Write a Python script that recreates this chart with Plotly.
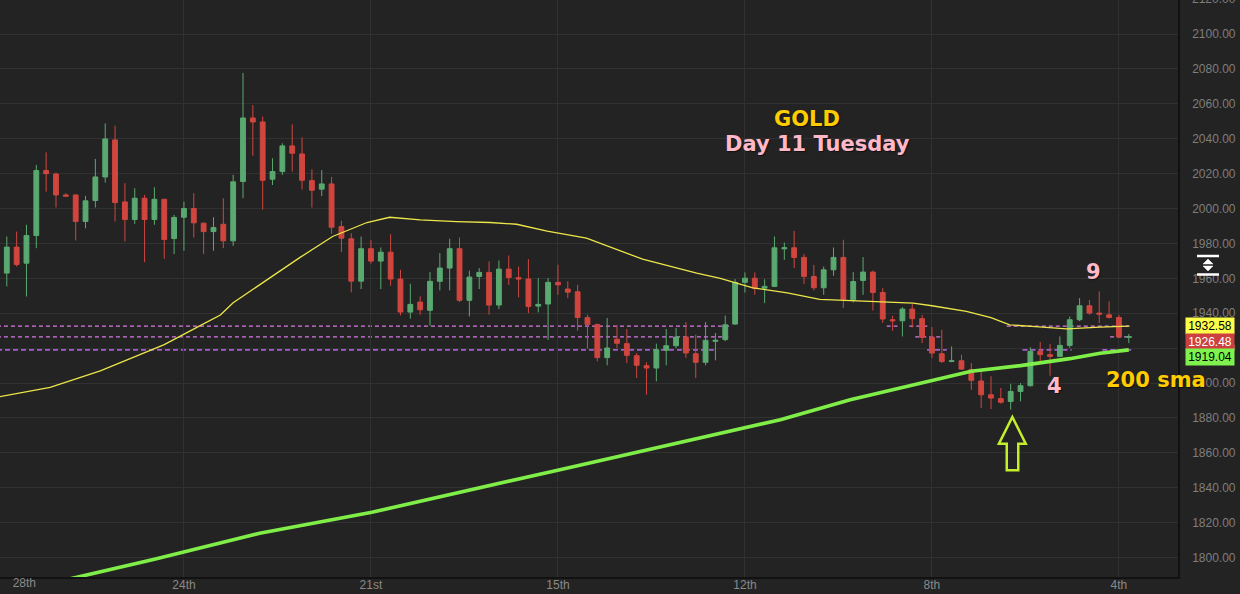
import plotly.graph_objects as go

# ---------------- data ----------------
bars = list(range(115))
opens = [1963.0, 1977.9, 1968.7, 1984.5, 2021.8, 2019.8, 2007.8, 2007.8, 1992.6, 2004.6,
         2018.1, 2039.3, 2003.8, 1993.7, 2005.9, 1993.7, 2005.3, 1982.8, 1995.0, 2000.0,
         1991.6, 1986.8, 1991.0, 1981.5, 2015.5, 2051.9, 2049.6, 2016.8, 2021.2, 2035.9,
         2031.3, 2016.0, 2011.1, 2014.1, 1989.7, 1982.7, 1958.4, 1977.0, 1969.9, 1975.0,
         1959.6, 1940.7, 1946.4, 1941.7, 1958.3, 1965.9, 1977.0, 1947.4, 1961.1, 1963.4,
         1944.7, 1965.3, 1960.4, 1959.6, 1944.1, 1945.3, 1957.7, 1953.9, 1952.3, 1937.5,
         1933.6, 1914.6, 1925.1, 1922.6, 1915.7, 1910.0, 1908.6, 1918.8, 1921.4, 1926.4,
         1916.8, 1911.9, 1923.9, 1924.9, 1933.8, 1957.7, 1960.1, 1954.4, 1955.4, 1976.9,
         1977.5, 1972.0, 1961.1, 1954.6, 1964.9, 1972.0, 1947.7, 1958.8, 1963.6, 1951.9,
         1936.3, 1935.7, 1942.4, 1936.9, 1926.2, 1916.8, 1912.4, 1912.8, 1907.7, 1901.2,
         1893.3, 1891.1, 1889.5, 1895.2, 1898.5, 1918.2, 1916.3, 1915.3, 1921.6, 1936.3,
         1944.3, 1940.1, 1939.1, 1937.6, 1926.3]
highs = [1984.0, 1986.8, 1990.7, 2025.0, 2032.2, 2020.6, 2008.8, 2008.0, 2007.3, 2028.4,
         2048.8, 2047.5, 2014.5, 2011.6, 2007.8, 2012.2, 2005.5, 1996.4, 2004.0, 2008.8,
         1992.0, 1995.0, 2005.9, 2019.3, 2077.7, 2059.3, 2052.7, 2028.8, 2037.4, 2048.3,
         2040.8, 2022.5, 2022.0, 2018.1, 1993.0, 1985.9, 1984.0, 1982.1, 1977.7, 1985.3,
         1964.9, 1956.9, 1949.7, 1963.6, 1974.5, 1982.7, 1983.4, 1964.4, 1965.9, 1969.7,
         1970.3, 1973.1, 1966.8, 1971.0, 1960.2, 1960.2, 1967.8, 1958.3, 1956.3, 1939.2,
         1934.0, 1937.3, 1933.3, 1931.0, 1917.2, 1911.9, 1922.6, 1931.0, 1931.5, 1935.0,
         1927.7, 1935.0, 1928.7, 1938.6, 1959.6, 1963.4, 1963.4, 1959.5, 1984.0, 1980.5,
         1987.2, 1973.9, 1967.7, 1966.8, 1977.7, 1982.1, 1963.6, 1972.2, 1964.5, 1954.4,
         1938.6, 1943.5, 1945.4, 1939.1, 1932.1, 1930.6, 1921.0, 1916.2, 1911.5, 1906.7,
         1903.9, 1897.2, 1899.6, 1900.0, 1920.5, 1923.5, 1922.5, 1926.7, 1938.2, 1948.7,
         1947.7, 1952.5, 1946.8, 1939.1, 1928.1]
lows = [1955.4, 1966.8, 1949.6, 1977.3, 2009.7, 2000.6, 2006.9, 1981.7, 1988.7, 2000.6,
        2014.9, 1992.6, 1981.1, 1991.2, 1969.3, 1990.7, 1971.2, 1973.9, 1975.8, 1983.4,
        1973.9, 1975.8, 1977.3, 1978.6, 2005.9, 2030.3, 1999.4, 2013.5, 2019.3, 2021.2,
        2010.9, 2000.6, 2007.1, 1985.5, 1975.0, 1952.0, 1953.9, 1968.4, 1953.9, 1955.8,
        1938.8, 1936.9, 1939.2, 1932.9, 1953.1, 1953.1, 1946.5, 1938.2, 1953.9, 1939.2,
        1942.4, 1956.3, 1949.1, 1940.1, 1940.5, 1924.7, 1950.6, 1948.7, 1930.0, 1919.7,
        1912.5, 1910.2, 1920.1, 1911.5, 1902.9, 1893.4, 1901.0, 1910.2, 1920.1, 1914.4,
        1902.9, 1910.2, 1913.0, 1924.0, 1933.4, 1951.9, 1950.6, 1945.8, 1955.0, 1970.6,
        1965.9, 1956.7, 1953.1, 1950.6, 1961.5, 1943.0, 1946.2, 1950.6, 1941.6, 1934.4,
        1930.0, 1926.7, 1931.9, 1922.9, 1914.3, 1911.5, 1911.9, 1907.7, 1896.2, 1885.7,
        1885.1, 1888.2, 1884.8, 1889.5, 1898.0, 1912.4, 1904.2, 1914.9, 1920.1, 1935.5,
        1939.1, 1934.4, 1937.0, 1925.8, 1922.9]
closes = [1977.9, 1967.9, 1984.5, 2021.8, 2020.0, 2007.8, 2007.1, 1992.6, 2004.4, 2018.1,
          2039.9, 2003.4, 1993.7, 2005.9, 1993.7, 2005.3, 1982.3, 1994.9, 2000.0, 1991.8,
          1986.8, 1989.1, 1981.5, 2015.3, 2051.9, 2049.6, 2016.2, 2021.2, 2035.9, 2031.7,
          2016.2, 2010.5, 2014.1, 1989.3, 1983.0, 1958.4, 1977.0, 1969.9, 1975.0, 1959.6,
          1940.7, 1945.1, 1942.0, 1958.3, 1965.9, 1977.0, 1947.4, 1960.7, 1963.4, 1944.7,
          1965.3, 1960.5, 1959.6, 1943.9, 1945.1, 1957.7, 1956.3, 1952.1, 1937.6, 1933.6,
          1914.6, 1920.1, 1922.8, 1915.9, 1910.2, 1908.6, 1919.1, 1921.4, 1926.4, 1917.2,
          1911.9, 1924.5, 1924.5, 1933.4, 1957.7, 1960.1, 1954.4, 1955.4, 1977.5, 1977.5,
          1972.0, 1961.1, 1954.6, 1964.9, 1972.0, 1947.7, 1958.2, 1963.6, 1951.9, 1936.7,
          1935.7, 1942.4, 1936.9, 1926.2, 1917.2, 1912.4, 1912.8, 1908.0, 1901.6, 1893.3,
          1891.4, 1889.0, 1895.2, 1898.5, 1918.2, 1916.3, 1915.3, 1921.6, 1936.3, 1944.3,
          1940.1, 1939.5, 1937.6, 1926.4, 1926.48]

sma50_bars = [-0.7, 4.4, 9.5, 12.2, 16, 19.6, 21.7, 23, 26.4, 29.8, 33.1, 36.6, 38.9, 42,
              45.7, 49.1, 51.8, 54.9, 58.9, 64.6, 70.1, 72.5, 75.8, 79.3, 82.6, 87.7, 92.1,
              94, 97.5, 100, 101.9, 104.5, 107.7, 111.1, 114]
sma50_vals = [1892.2, 1897.5, 1907.0, 1913.3, 1922.0, 1932.8, 1939.0, 1946.0, 1959.0,
              1972.0, 1984.0, 1992.0, 1995.0, 1993.5, 1992.5, 1992.0, 1991.0, 1987.0,
              1983.0, 1971.0, 1963.0, 1960.0, 1954.6, 1951.7, 1948.0, 1946.6, 1945.8,
              1944.3, 1941.1, 1937.5, 1933.4, 1932.3, 1931.1, 1932.1, 1932.58]

# 200-day SMA (green)
sma200_bars = [0, 7.3, 15, 25.7, 37.1, 56.2, 75, 78.6, 85.7, 92.8, 98, 103, 108, 111.1, 114]
sma200_vals = [1779.5, 1789.0, 1799.0, 1814.0, 1826.0, 1850.4, 1874.5, 1879.0, 1890.5,
               1900.2, 1906.8, 1910.0, 1914.0, 1917.1, 1919.04]

tick_bars = [18, 37, 56, 75, 94, 113]
tick_labels = ["24th<br>Apr 2023", "21st<br>May 2023", "15th<br>Jun 2023",
               "12th<br>Jul 2023", "8th<br>Aug 2023", "4th<br>Sep 2023"]
first_label = "28th<br>Mar 2023"

level_hi, level_last, level_lo = 1932.58, 1926.48, 1919.04

# ---------------- styling ----------------
BG = "#232323"
GRID = "#313131"
UP = "#5aa970"
DN = "#d0463f"
W, H = 1240, 594
ML, MR, MT, MB = 0, 62, 0, 17
PW, PH = W - ML - MR, H - MT - MB

def px(x):
    return x / PW

def py(y):
    return 1 - y / PH

fig = go.Figure()

fig.add_trace(go.Candlestick(
    x=bars, open=opens, high=highs, low=lows, close=closes,
    increasing=dict(line=dict(color=UP, width=1), fillcolor=UP),
    decreasing=dict(line=dict(color=DN, width=1), fillcolor=DN),
    whiskerwidth=0, showlegend=False, hoverinfo="skip"))

fig.add_trace(go.Scatter(x=sma50_bars, y=sma50_vals, mode="lines",
                         line=dict(color="#ece64a", width=1.3), showlegend=False,
                         hoverinfo="skip"))
fig.add_trace(go.Scatter(x=sma200_bars, y=sma200_vals, mode="lines",
                         line=dict(color="#80ee48", width=3.6), showlegend=False,
                         hoverinfo="skip"))

shapes = []
# dashed price levels (continuous on the left, broken patches on the right as in the picture)
level_segments = [
    (level_hi, "#e07ae6", 1.2, "4px,3px", [(-1, 73.5), (89.4, 90.5), (91.7, 93.6), (101.6, 114.3)]),
    (level_last, "#d67be6", 1.2, "4px,3px", [(-1, 73.3), (92.3, 95.0), (112.1, 114.3)]),
    (level_lo, "#a45ccc", 2, "5px,3px", [(-1, 72.0), (93.5, 95.5), (103.2, 108.2), (111.3, 114.3)]),
]
for lvl, col, wd, dash, segs in level_segments:
    for a, b in segs:
        shapes.append(dict(type="line", xref="x", yref="y", x0=a, x1=b, y0=lvl, y1=lvl,
                           line=dict(color=col, width=wd, dash=dash), layer="below"))

# hollow up arrow
shapes.append(dict(type="path", xref="x", yref="y",
                   path="M 100.81,1865.3 L 102.17,1880.6 L 103.53,1865.3 L 102.77,1865.3 "
                        "L 102.77,1850.0 L 101.60,1850.0 L 101.60,1865.3 Z",
                   line=dict(color="#c4ee2c", width=2.5), fillcolor="rgba(0,0,0,0)"))

# right-hand icon
shapes.append(dict(type="line", xref="paper", yref="paper", x0=px(1197), x1=px(1219),
                   y0=py(256), y1=py(256), line=dict(color="white", width=2.5)))
shapes.append(dict(type="line", xref="paper", yref="paper", x0=px(1197), x1=px(1219),
                   y0=py(274.5), y1=py(274.5), line=dict(color="white", width=2.5)))
shapes.append(dict(type="path", xref="paper", yref="paper",
                   path=f"M {px(1203)},{py(264)} L {px(1208)},{py(259)} L {px(1213)},{py(264)} Z",
                   line=dict(color="white", width=0.5), fillcolor="white"))
shapes.append(dict(type="path", xref="paper", yref="paper",
                   path=f"M {px(1203)},{py(266)} L {px(1208)},{py(271)} L {px(1213)},{py(266)} Z",
                   line=dict(color="white", width=0.5), fillcolor="white"))

bold = dict(family="DejaVu Sans", size=21, weight="bold", shadow="1px 1px 1px #111")
def label(text, x, y, color):
    return dict(text=text, xref="paper", yref="paper", x=px(x), y=py(y),
                xanchor="center", yanchor="middle", showarrow=False,
                font=dict(**bold, color=color))

annotations = [
    label("GOLD", 806.5, 118.5, "#ffcc00"),
    label("Day 11 Tuesday", 817.5, 144, "#ffb8c8"),
    label("9", 1093.5, 272, "#ffb8c8"),
    label("4", 1054, 385.5, "#ffb8c8"),
    label("200 sma", 1156, 379.5, "#ffcc00"),
    dict(text=first_label, xref="paper", yref="paper", x=px(24), y=0, yanchor="top",
         xanchor="center", yshift=3, showarrow=False,
         font=dict(family="Liberation Sans", size=12, color="#8a8a8a")),
    dict(text="2120.00", xref="paper", yref="paper", x=px(1190), xanchor="left",
         y=py(-1), yanchor="middle", showarrow=False,
         font=dict(family="Liberation Sans", size=12, color="#7e7e7e")),
]
for val, bg, fg, shift in [(level_hi, "#ffff4a", "black", 0),
                           (level_last, "#cc4040", "white", -5.3),
                           (level_lo, "#80f24e", "black", -7.3)]:
    annotations.append(dict(text=f"{val:.2f}", xref="paper", yref="y", x=px(1209.5),
                            y=val, yshift=shift, xanchor="center", yanchor="middle",
                            showarrow=False, bgcolor=bg, width=46, height=14, borderpad=1,
                            font=dict(family="Liberation Sans", size=12, color=fg)))

fig.update_layout(
    width=W, height=H,
    margin=dict(l=ML, r=MR, t=MT, b=MB, autoexpand=False),
    paper_bgcolor=BG, plot_bgcolor=BG,
    shapes=shapes, annotations=annotations,
    showlegend=False, hovermode=False,
    xaxis=dict(range=[-0.69, 119.0], tickmode="array", tickvals=tick_bars,
               ticktext=tick_labels, showgrid=True, gridcolor=GRID, gridwidth=1,
               zeroline=False, showline=True, linecolor="#121212", linewidth=1.5,
               mirror=False, ticks="", rangeslider=dict(visible=False),
               automargin=False, ticklabelstandoff=-4,
               tickfont=dict(family="Liberation Sans", size=12, color="#8a8a8a"),
               fixedrange=True),
    yaxis=dict(range=[1788.9, 2119.48], side="right", dtick=20, tick0=1800,
               tickformat=".2f", showgrid=True, gridcolor=GRID, gridwidth=1,
               zeroline=False, showline=True, linecolor="#121212", linewidth=1.5,
               ticks="", ticklabelstandoff=10, automargin=False,
               tickfont=dict(family="Liberation Sans", size=12, color="#7e7e7e"),
               fixedrange=True),
)

fig.write_html("out.html", config=dict(displayModeBar=False),
               post_script="document.body.style.margin='0';document.body.style.background='#232323';")
